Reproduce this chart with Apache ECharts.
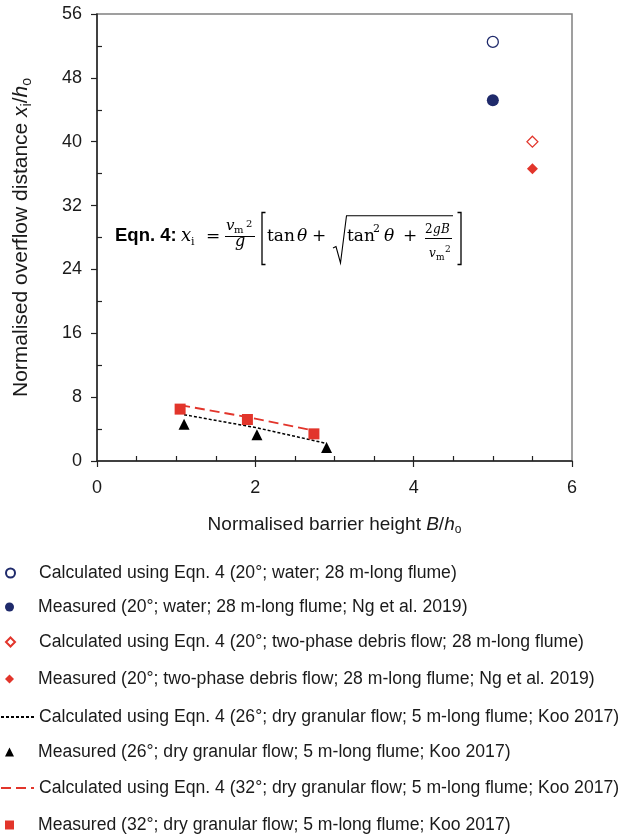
<!DOCTYPE html>
<html><head><meta charset="utf-8">
<script src="https://cdn.jsdelivr.net/npm/echarts@6/dist/echarts.min.js"></script>
<style>html,body{margin:0;padding:0;background:#fff}#c{width:625px;height:839px}</style>
</head><body><div id="c"></div>
<script>
// ---- data ----
const calcWater = [[5.0, 52.5]];
const measWater = [[5.0, 45.2]];
const calcDebris = [[5.5, 40.0]];
const measDebris = [[5.5, 36.6]];
const calc26 = [[1.1, 5.8], [2.0, 4.2], [2.9, 2.2]];
const meas26 = [[1.1, 4.6], [2.02, 3.3], [2.9, 1.7]];
const calc32 = [[1.05, 7.0], [1.9, 5.5], [2.74, 3.8]];
const meas32 = [[1.05, 6.5], [1.9, 5.2], [2.74, 3.4]];
const seriesNames = [
  'Calculated using Eqn. 4 (20°; water; 28 m-long flume)',
  'Measured (20°; water; 28 m-long flume; Ng et al. 2019)',
  'Calculated using Eqn. 4 (20°; two-phase debris flow; 28 m-long flume)',
  'Measured (20°; two-phase debris flow; 28 m-long flume; Ng et al. 2019)',
  'Calculated using Eqn. 4 (26°; dry granular flow; 5 m-long flume; Koo 2017)',
  'Measured (26°; dry granular flow; 5 m-long flume; Koo 2017)',
  'Calculated using Eqn. 4 (32°; dry granular flow; 5 m-long flume; Koo 2017)',
  'Measured (32°; dry granular flow; 5 m-long flume; Koo 2017)'
];
const xMinorTicks = [0.5, 1, 1.5, 2, 2.5, 3, 3.5, 4, 4.5, 5, 5.5];
const yMinorTicks = [4, 12, 20, 28, 36, 44, 52];

// ---- styles ----
const NAVY = '#1f2a6b', RED = '#e2352b', TXT = '#1a1a1a';
const SANS = 'Liberation Sans', SERIF = 'DejaVu Serif';
const legendRows = [572, 606, 641, 678, 716, 751, 787, 824];
const isLine = [false, false, false, false, true, false, true, false];

const legends = seriesNames.map((n, i) => {
  const l = {
    data: [n], selectedMode: false, orient: 'horizontal', padding: 0,
    left: isLine[i] ? 0 : 5,
    top: legendRows[i] - 8,
    itemWidth: isLine[i] ? 33 : 9, itemHeight: isLine[i] ? 14 : 9, itemGap: 0,
    textStyle: { fontFamily: SANS, fontSize: 17.6, color: TXT, padding: isLine[i] ? [0, 0, 0, 0] : [0, 0, 0, 19] }
  };
  if (isLine[i]) l.itemStyle = { color: 'rgba(0,0,0,0)', borderColor: 'rgba(0,0,0,0)', borderWidth: 0 };
  return l;
});

const nameRich = (fs) => ({
  it: { fontFamily: SANS, fontSize: fs, fontStyle: 'italic', color: TXT },
  sub: { fontFamily: SANS, fontSize: Math.round(fs * 0.65), color: TXT, padding: [Math.round(fs * 0.5), 0, 0, 0] }
});

// equation pieces: [text, x, baseline, size, italic, family, bold]
const eq = [
  ['Eqn. 4:', 115, 242, 18.5, false, SANS, true],
  ['x', 181, 242, 18, true], ['i', 191, 246, 11], ['=', 206, 242, 17],
  ['v', 226, 231, 15, true], ['m', 234, 234, 10], ['2', 246, 228, 10],
  ['g', 235, 247, 16, true],
  ['tan', 267, 242, 17], ['θ', 297, 242, 17, true], ['+', 312, 242, 17],
  ['tan', 347, 242, 17], ['2', 373, 233, 11], ['θ', 384, 242, 17, true], ['+', 403, 242, 17],
  ['2', 425, 234, 12], ['g', 433, 234, 12, true], ['B', 441, 234, 12, true],
  ['v', 429, 258, 12, true], ['m', 436, 261, 9], ['2', 445, 253, 9]
];
const graphics = eq.map(p => ({
  type: 'text', x: p[1], y: p[2] - 0.34 * p[3], silent: true,
  style: {
    text: p[0], fontSize: p[3], fontFamily: p[5] || SERIF,
    fontStyle: p[4] ? 'italic' : 'normal', fontWeight: p[6] ? 'bold' : 'normal',
    fill: '#000', verticalAlign: 'middle', align: 'left'
  }
}));
const ln = (pts, w) => ({ type: 'polyline', silent: true, shape: { points: pts }, style: { stroke: '#000', lineWidth: w || 1, fill: null } });
graphics.push(ln([[225, 236.5], [255, 236.5]], 1));
graphics.push(ln([[265.5, 212.5], [262, 212.5], [262, 264.5], [265.5, 264.5]], 1.3));
graphics.push(ln([[333, 248], [336, 246.5], [340.5, 263], [346.5, 215.7], [453, 215.7]], 1.1));
graphics.push(ln([[425, 238.5], [452, 238.5]], 1));
graphics.push(ln([[457.5, 212.5], [461, 212.5], [461, 264.5], [457.5, 264.5]], 1.3));

const option = {
  backgroundColor: '#fff',
  animation: false,
  grid: { left: 97, top: 14, width: 475, height: 447, show: true, borderColor: '#808080', borderWidth: 1.5, backgroundColor: 'transparent' },
  legend: legends,
  graphic: graphics,
  xAxis: [
    {
      type: 'value', min: 0, max: 6, interval: 2, position: 'bottom',
      axisLine: { show: true, onZero: false, lineStyle: { color: '#222', width: 1.5 } },
      axisTick: { show: true, inside: false, length: 6, lineStyle: { color: '#222', width: 1.2 } },
      axisLabel: { fontFamily: SANS, fontSize: 18, color: TXT, margin: 18 },
      splitLine: { show: false },
      name: 'Normalised barrier height {it|B}/{it|h}{sub|o}', nameLocation: 'middle', nameGap: 53,
      nameTextStyle: { fontFamily: SANS, fontSize: 19, color: TXT, rich: nameRich(19) }
    },
    {
      type: 'value', min: 0, max: 6, interval: 0.5, position: 'bottom',
      axisLine: { show: false },
      axisTick: { show: true, inside: true, length: 5, customValues: xMinorTicks, lineStyle: { color: '#222', width: 1.2 } },
      axisLabel: { show: false }, splitLine: { show: false }
    }
  ],
  yAxis: [
    {
      type: 'value', min: 0, max: 56, interval: 8, position: 'left',
      axisLine: { show: true, onZero: false, lineStyle: { color: '#222', width: 1.5 } },
      axisTick: { show: true, inside: false, length: 6, lineStyle: { color: '#222', width: 1.2 } },
      axisLabel: { fontFamily: SANS, fontSize: 18, color: TXT, margin: 15 },
      splitLine: { show: false },
      name: 'Normalised overflow distance {it|x}{sub|i}/{it|h}{sub|o}', nameLocation: 'middle', nameGap: 63,
      nameTextStyle: { fontFamily: SANS, fontSize: 21, color: TXT, rich: nameRich(21) }
    },
    {
      type: 'value', min: 0, max: 56, interval: 4, position: 'left',
      axisLine: { show: false },
      axisTick: { show: true, inside: true, length: 5, customValues: yMinorTicks, lineStyle: { color: '#222', width: 1.2 } },
      axisLabel: { show: false }, splitLine: { show: false }
    }
  ],
  series: [
    { name: seriesNames[0], type: 'scatter', data: calcWater, symbol: 'circle', symbolSize: 11,
      itemStyle: { color: '#fff', borderColor: NAVY, borderWidth: 1.3, opacity: 1 } },
    { name: seriesNames[1], type: 'scatter', data: measWater, symbol: 'circle', symbolSize: 12,
      itemStyle: { color: NAVY, opacity: 1 } },
    { name: seriesNames[2], type: 'scatter', data: calcDebris, symbol: 'diamond', symbolSize: 11,
      itemStyle: { color: '#fff', borderColor: RED, borderWidth: 1.2, opacity: 1 } },
    { name: seriesNames[3], type: 'scatter', data: measDebris, symbol: 'diamond', symbolSize: 11,
      itemStyle: { color: RED, opacity: 1 } },
    { name: seriesNames[4], type: 'line', data: calc26, symbol: 'none', z: 1,
      lineStyle: { color: '#000', width: 1.5, type: [3, 2] }, itemStyle: { color: '#000' } },
    { name: seriesNames[5], type: 'scatter', data: meas26, symbol: 'triangle', symbolSize: 11,
      itemStyle: { color: '#000', opacity: 1 } },
    { name: seriesNames[6], type: 'line', data: calc32, symbol: 'none', z: 1,
      lineStyle: { color: RED, width: 1.8, type: [10, 5] }, itemStyle: { color: RED } },
    { name: seriesNames[7], type: 'scatter', data: meas32, symbol: 'rect', symbolSize: 11,
      itemStyle: { color: RED, opacity: 1 } }
  ]
};
const chart = echarts.init(document.getElementById('c'), null, { renderer: 'canvas' });
chart.setOption(option);
</script></body></html>
